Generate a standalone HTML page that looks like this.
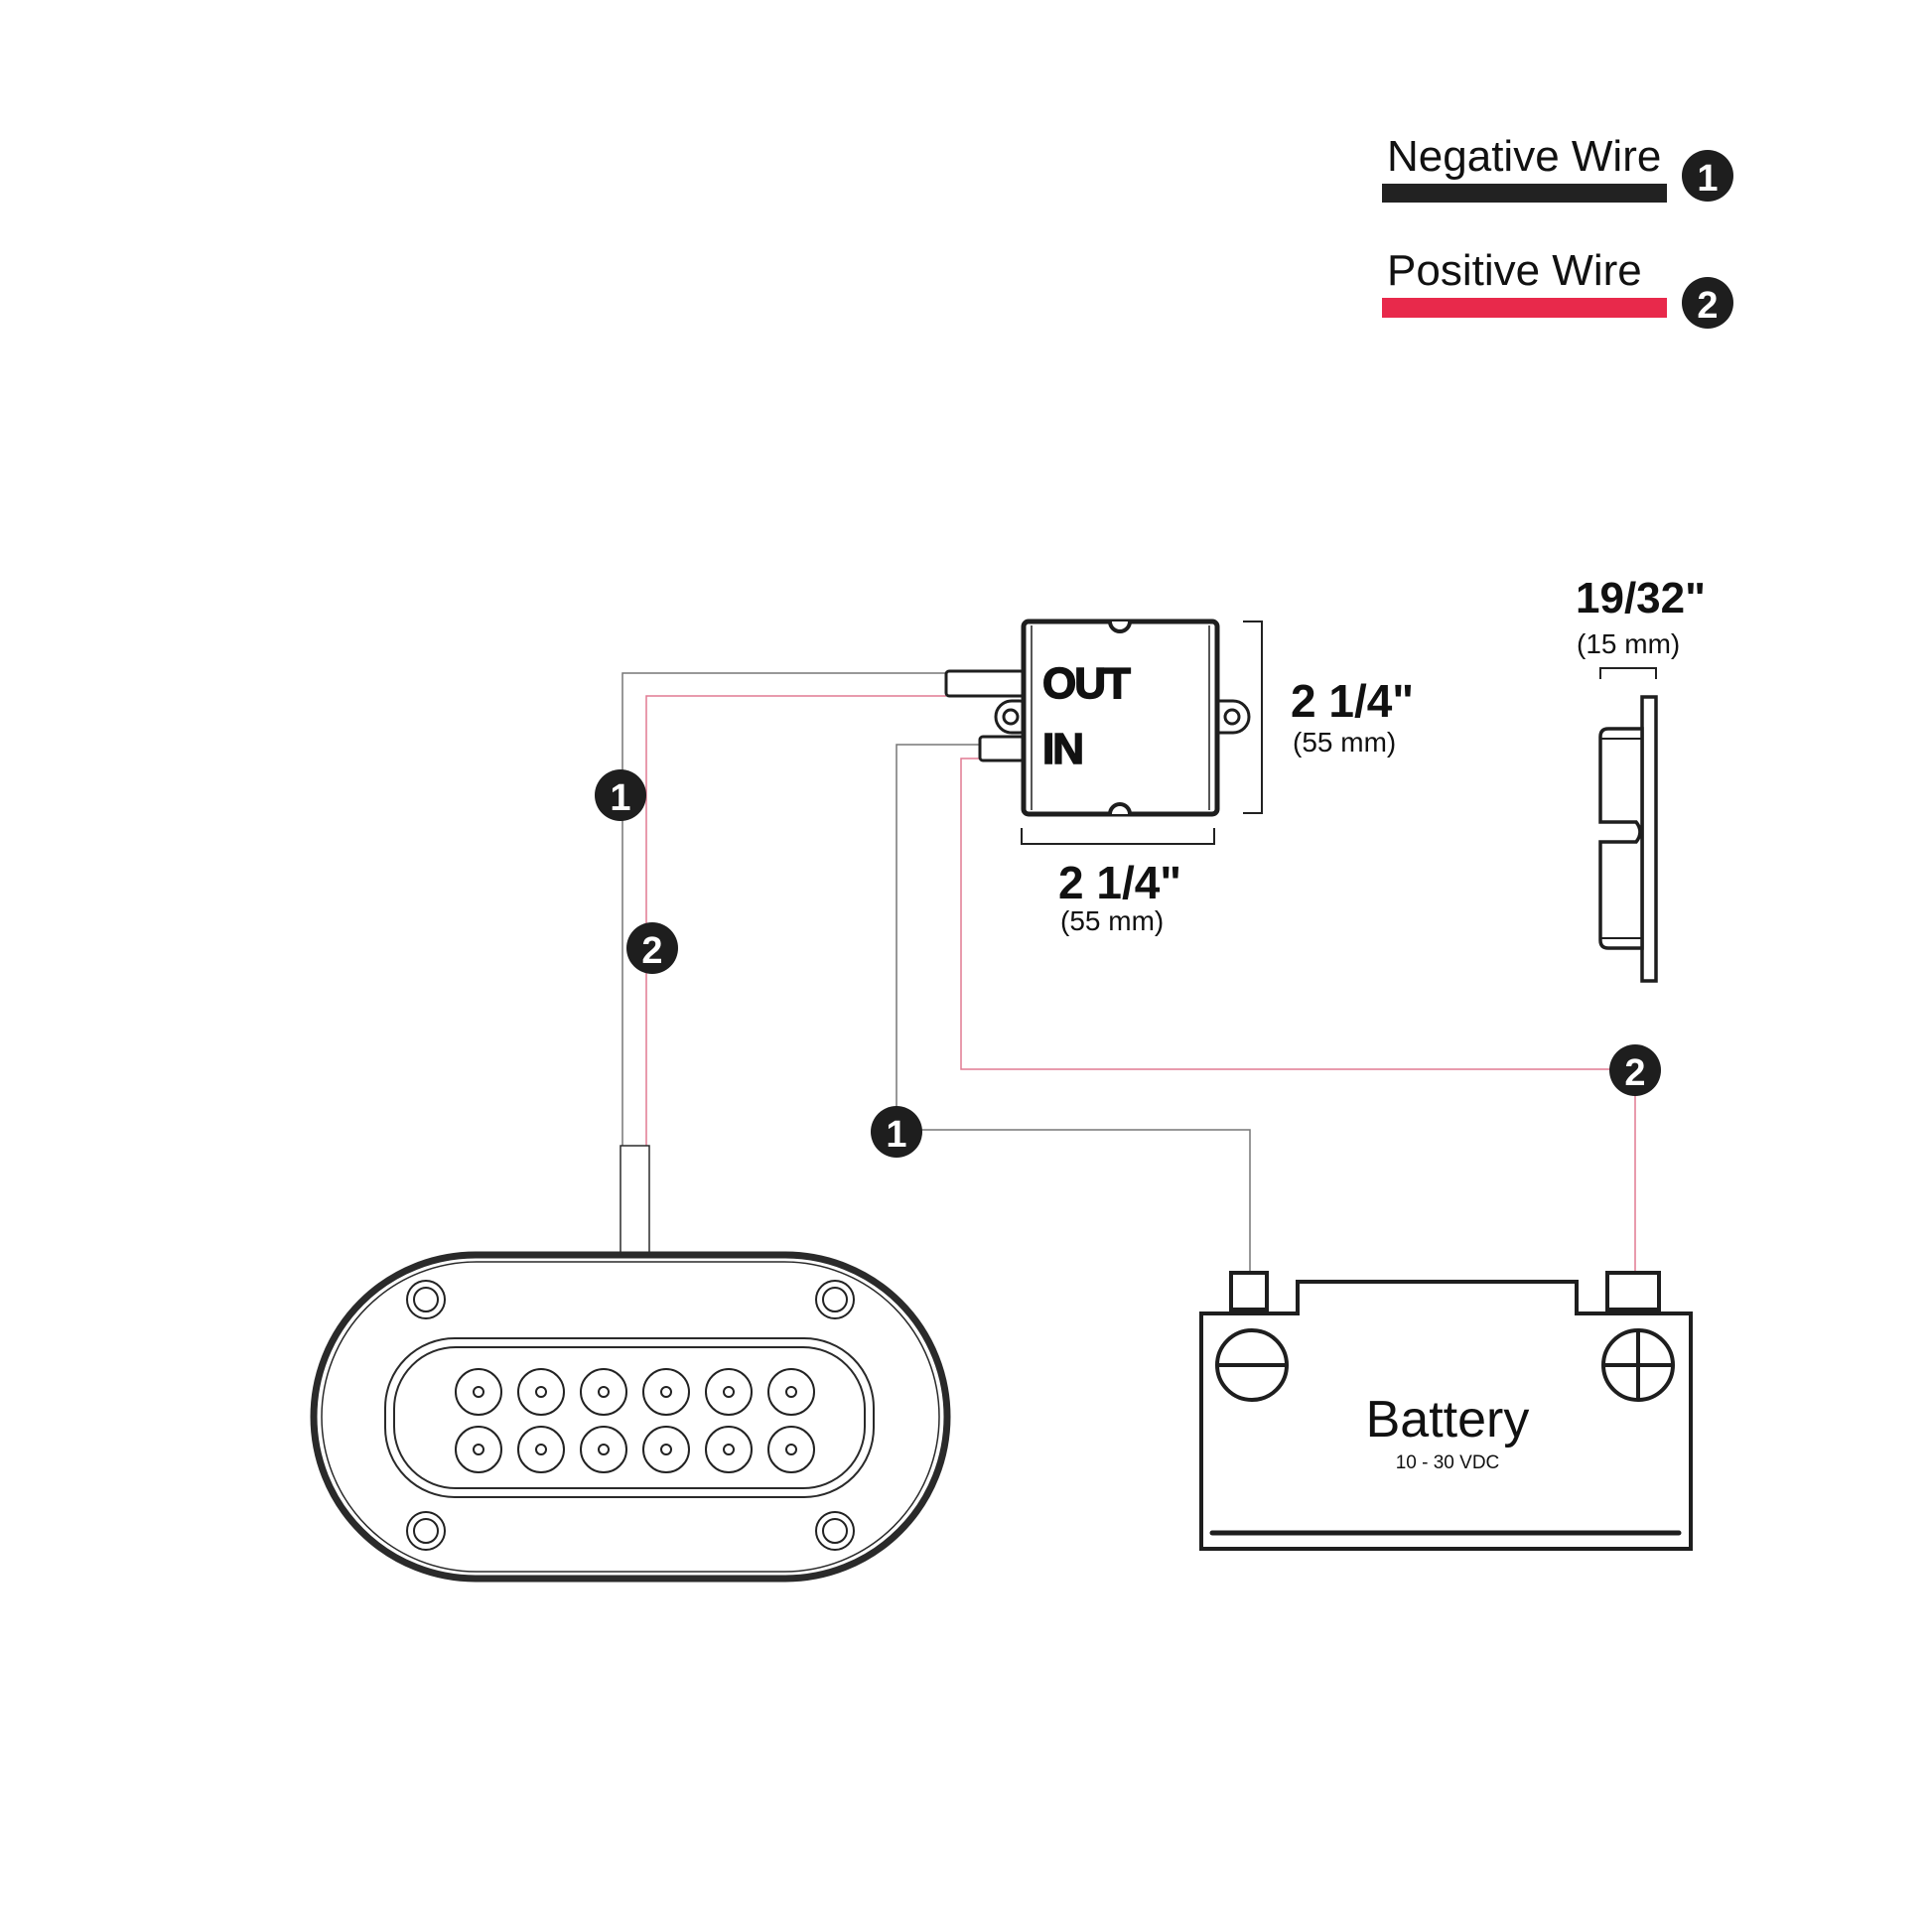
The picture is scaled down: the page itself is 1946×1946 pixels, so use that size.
<!DOCTYPE html>
<html><head><meta charset="utf-8"><style>
html,body{margin:0;padding:0;background:#fff;}
svg{display:block;}
text{font-family:"Liberation Sans",sans-serif;fill:#111;}
</style></head><body>
<svg width="1946" height="1946" viewBox="0 0 1946 1946" xmlns="http://www.w3.org/2000/svg">
<rect width="1946" height="1946" fill="#fff"/>
<!-- Legend -->
<text x="1397" y="172" font-size="44" font-weight="300" fill="#222">Negative Wire</text>
<rect x="1392" y="185" width="287" height="19" fill="#222"/>
<circle cx="1720" cy="177" r="26" fill="#1e1e1e"/>
<text x="1720" y="192" font-size="38" font-weight="bold" text-anchor="middle" style="fill:#fff">1</text>
<text x="1397" y="287" font-size="44" font-weight="300" fill="#222">Positive Wire</text>
<rect x="1392" y="300" width="287" height="20" fill="#e8294b"/>
<circle cx="1720" cy="305" r="26" fill="#1e1e1e"/>
<text x="1720" y="320" font-size="38" font-weight="bold" text-anchor="middle" style="fill:#fff">2</text>

<!-- wires -->
<g fill="none" stroke-width="1.5">
<polyline points="953,678 627,678 627,1154" stroke="#777"/>
<polyline points="953,701 651,701 651,1154" stroke="#e07a92"/>
<polyline points="987,750 903,750 903,1138 1259,1138 1259,1283" stroke="#777"/>
<polyline points="987,764 968,764 968,1077 1647,1077 1647,1283" stroke="#e07a92"/>
</g>
<g>
<circle cx="625" cy="801" r="26" fill="#1e1e1e"/><text x="625" y="816" font-size="38" font-weight="bold" text-anchor="middle" style="fill:#fff">1</text>
<circle cx="657" cy="955" r="26" fill="#1e1e1e"/><text x="657" y="970" font-size="38" font-weight="bold" text-anchor="middle" style="fill:#fff">2</text>
<circle cx="903" cy="1140" r="26" fill="#1e1e1e"/><text x="903" y="1155" font-size="38" font-weight="bold" text-anchor="middle" style="fill:#fff">1</text>
<circle cx="1647" cy="1078" r="26" fill="#1e1e1e"/><text x="1647" y="1093" font-size="38" font-weight="bold" text-anchor="middle" style="fill:#fff">2</text>
</g>

<!-- control box -->
<g stroke="#1e1e1e" fill="#fff">
<rect x="953" y="676" width="78" height="25" rx="3" stroke-width="3"/>
<rect x="987" y="742" width="44" height="24" rx="3" stroke-width="3"/>
<rect x="1003" y="706" width="40" height="32" rx="16" stroke-width="3"/>
<circle cx="1018" cy="722" r="7" stroke-width="3"/>
<rect x="1212" y="706" width="46" height="32" rx="16" stroke-width="3"/>
<circle cx="1241" cy="722" r="7" stroke-width="3"/>
<rect x="1031" y="626" width="195" height="194" rx="5" stroke-width="5"/>
<line x1="1039" y1="630" x2="1039" y2="816" stroke-width="1.5"/>
<line x1="1218" y1="630" x2="1218" y2="816" stroke-width="1.5"/>
<path d="M1118 626 a10 10 0 0 0 20 0" stroke-width="4"/>
<path d="M1118 820 a10 10 0 0 1 20 0" stroke-width="4"/>
</g>
<text x="1050" y="703" font-size="44" font-weight="bold" letter-spacing="-2" stroke="#111" stroke-width="1.5">OUT</text>
<text x="1050" y="769" font-size="44" font-weight="bold" letter-spacing="-2" stroke="#111" stroke-width="1.5">IN</text>
<!-- dims -->
<g fill="none" stroke="#222" stroke-width="2">
<polyline points="1252,626 1271,626 1271,819 1252,819"/>
<polyline points="1029,834 1029,850 1223,850 1223,834"/>
<polyline points="1612,684 1612,673 1668,673 1668,684"/>
</g>
<text x="1300" y="722" font-size="46" font-weight="bold">2 1/4"</text>
<text x="1302" y="757" font-size="28">(55 mm)</text>
<text x="1066" y="905" font-size="46" font-weight="bold">2 1/4"</text>
<text x="1068" y="937" font-size="28">(55 mm)</text>
<text x="1587" y="617" font-size="44" font-weight="bold">19/32"</text>
<text x="1588" y="658" font-size="28">(15 mm)</text>

<!-- side profile -->
<g fill="#fff" stroke="#1e1e1e" stroke-width="3.5">
<rect x="1654" y="702" width="14" height="286"/>
<path d="M1654 734 L1620 734 Q1612 734 1612 742 L1612 828 L1648 828 Q1656 838 1648 848 L1612 848 L1612 947 Q1612 955 1620 955 L1654 955 Z"/>
<line x1="1613" y1="744" x2="1654" y2="744" stroke-width="2"/>
<line x1="1613" y1="945" x2="1654" y2="945" stroke-width="2"/>
</g>

<!-- light -->
<g fill="#fff" stroke="#2a2a2a">
<rect x="625" y="1154" width="29" height="112" stroke-width="1.5"/>
<rect x="316" y="1264" width="638" height="326" rx="163" stroke-width="7"/>
<rect x="324" y="1271" width="622" height="312" rx="156" stroke-width="1.5"/>
<rect x="388" y="1348" width="492" height="160" rx="70" stroke-width="2"/>
<rect x="397" y="1357" width="474" height="142" rx="62" stroke-width="2"/>
</g>
<g fill="none" stroke="#222" stroke-width="2">
<circle cx="429" cy="1309" r="19"/><circle cx="429" cy="1309" r="12"/>
<circle cx="841" cy="1309" r="19"/><circle cx="841" cy="1309" r="12"/>
<circle cx="429" cy="1542" r="19"/><circle cx="429" cy="1542" r="12"/>
<circle cx="841" cy="1542" r="19"/><circle cx="841" cy="1542" r="12"/>
<g id="row">
<circle cx="482" cy="1402" r="23"/><circle cx="482" cy="1402" r="5"/>
<circle cx="545" cy="1402" r="23"/><circle cx="545" cy="1402" r="5"/>
<circle cx="608" cy="1402" r="23"/><circle cx="608" cy="1402" r="5"/>
<circle cx="671" cy="1402" r="23"/><circle cx="671" cy="1402" r="5"/>
<circle cx="734" cy="1402" r="23"/><circle cx="734" cy="1402" r="5"/>
<circle cx="797" cy="1402" r="23"/><circle cx="797" cy="1402" r="5"/>
</g>
<use href="#row" y="58"/>
</g>

<!-- battery -->
<g transform="translate(-7,-5)">
<g fill="#fff" stroke="#1e1e1e" stroke-width="4">
<rect x="1247" y="1287" width="36" height="37"/>
<rect x="1626" y="1287" width="52" height="37"/>
<path d="M1217 1328 L1314 1328 L1314 1296 L1595 1296 L1595 1328 L1710 1328 L1710 1565 L1217 1565 Z"/>
<circle cx="1268" cy="1380" r="35"/><line x1="1233" y1="1380" x2="1303" y2="1380"/>
<circle cx="1657" cy="1380" r="35"/><line x1="1622" y1="1380" x2="1692" y2="1380"/><line x1="1657" y1="1345" x2="1657" y2="1415"/>
<line x1="1228" y1="1549" x2="1698" y2="1549" stroke-width="5" stroke-linecap="round"/>
</g>
<text x="1465" y="1452" font-size="52" font-weight="300" text-anchor="middle" fill="#222">Battery</text>
<text x="1465" y="1484" font-size="19" text-anchor="middle">10 - 30 VDC</text>
</g>
</svg>
</body></html>
